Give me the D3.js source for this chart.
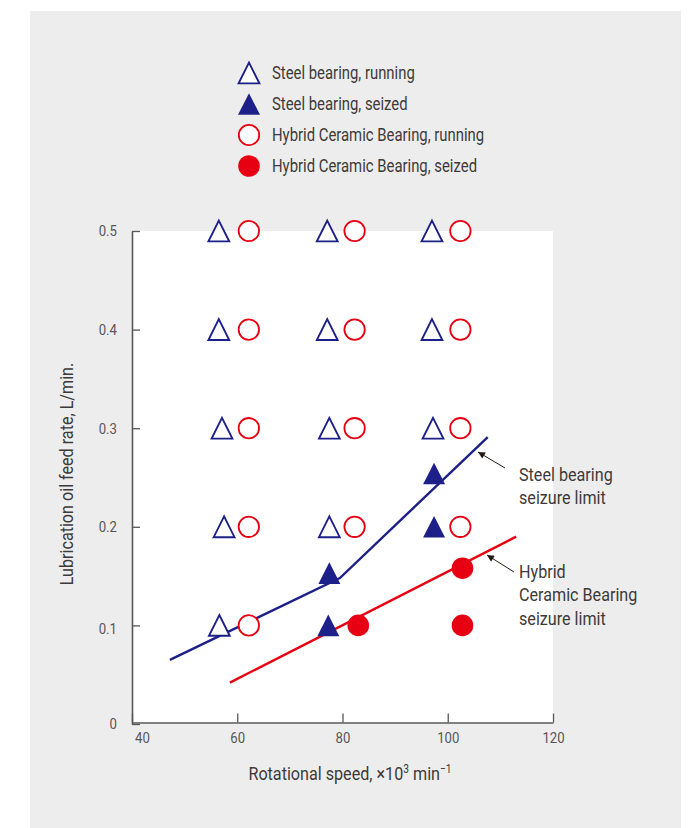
<!DOCTYPE html>
<html lang="en">
<head>
<meta charset="utf-8">
<script src="https://d3js.org/d3.v7.min.js"></script>
<style>
  body { margin: 0; background: #fff; }
  text { font-family: "Liberation Sans Narrow", "Roboto", sans-serif; }
</style>
</head>
<body>
<script>
// data
var steelRunning = [[56.5,0.5],[56.5,0.4],[57.1,0.3],[57.5,0.2],[56.6,0.1],
                    [77.1,0.5],[77.1,0.4],[77.5,0.3],[77.5,0.2],
                    [97,0.5],[97,0.4],[97.2,0.3]];
var steelSeized = [[77.5,0.153],[77.3,0.1],[97.4,0.254],[97.4,0.2]];
var hybridRunning = [[62.2,0.5],[62.2,0.4],[62.2,0.3],[62.2,0.2],[62.2,0.1],
                     [82.3,0.5],[82.3,0.4],[82.3,0.3],[82.3,0.2],
                     [102.4,0.5],[102.4,0.4],[102.4,0.3],[102.4,0.2]];
var hybridSeized = [[83,0.1],[102.8,0.158],[102.8,0.1]];
var steelLimit = [[47.2,0.065],[79.5,0.148],[107.6,0.291]];
var hybridLimit = [[58.6,0.042],[113,0.19]];
var xTicks = [40,60,80,100,120];
var yTicks = [0,0.1,0.2,0.3,0.4,0.5];
var legendLabels = ["Steel bearing, running","Steel bearing, seized",
                    "Hybrid Ceramic Bearing, running","Hybrid Ceramic Bearing, seized"];

var W = 691, H = 828;
var navy = "#1d2088", red = "#e60012", txt = "#3d3a39";
var SQ = 0.85; // horizontal squeeze to mimic the condensed face

var svg = d3.select("body").append("svg")
    .attr("width", W).attr("height", H);

svg.append("rect").attr("x", 30).attr("y", 11)
    .attr("width", 651).attr("height", H - 11).attr("fill", "#ededed");

var x = d3.scaleLinear().domain([40,120]).range([132,553]);
var y = d3.scaleLinear().domain([0,0.5]).range([724,231]);

svg.append("rect").attr("x", x(40)).attr("y", y(0.5))
    .attr("width", x(120) - x(40)).attr("height", y(0) - y(0.5))
    .attr("fill", "#fff");

// condensed text helper
function label(parent, tx, ty, size, anchor, rot) {
  var g = parent.append("g")
    .attr("transform", "translate(" + tx + "," + ty + ")" + (rot ? " rotate(" + rot + ")" : "") + " scale(" + SQ + ",1)");
  return g.append("text").attr("text-anchor", anchor || "start")
    .attr("fill", txt).style("font-size", size + "px");
}

// axes, ticks point inward
var xAxis = svg.append("g").attr("transform", "translate(0,722.5)")
    .call(d3.axisBottom(x).tickValues(xTicks).tickSize(-9).tickPadding(9).tickSizeOuter(0));
var yAxis = svg.append("g").attr("transform", "translate(132,0)")
    .call(d3.axisLeft(y).tickValues(yTicks).tickSize(-8).tickPadding(15).tickSizeOuter(0)
      .tickFormat(function(d){ return d === 0 ? "0" : d3.format(".1f")(d); }));
[xAxis, yAxis].forEach(function(g){
  g.select(".domain").attr("stroke", "#595757").attr("stroke-width", 1.6);
  g.selectAll(".tick line").attr("stroke", "#595757").attr("stroke-width", 1.3);
  g.selectAll(".tick text").attr("fill", "#595757").style("font-size", "15.5px")
    .style("font-family", "'Liberation Sans Narrow', Roboto, sans-serif");
});
// squeeze tick labels about their anchor point
xAxis.selectAll(".tick text")
  .attr("transform", function(d){ return "translate(" + (d === 40 ? 10 : 0) + ",0) scale(" + SQ + ",1)"; });
yAxis.selectAll(".tick text")
  .attr("transform", function(d){ return "translate(-15," + (d === 0.1 ? 3 : 0) + ") scale(" + SQ + ",1)"; })
  .attr("x", 0);

// limit lines
var line = d3.line().x(function(d){ return x(d[0]); }).y(function(d){ return y(d[1]); });
svg.append("path").attr("d", line(steelLimit)).attr("fill", "none")
    .attr("stroke", navy).attr("stroke-width", 2.4);
svg.append("path").attr("d", line(hybridLimit)).attr("fill", "none")
    .attr("stroke", red).attr("stroke-width", 2.4);

function triPath(hw, hh) {
  return "M0," + (-hh) + "L" + hw + "," + hh + "L" + (-hw) + "," + hh + "Z";
}
function drawTri(parent, data, filled) {
  parent.selectAll(null).data(data).enter().append("path")
    .attr("d", filled ? triPath(11, 10.8) : triPath(10.4, 10.4))
    .attr("transform", function(d){ return "translate(" + x(d[0]) + "," + y(d[1]) + ")"; })
    .attr("fill", filled ? navy : "#fff")
    .attr("stroke", navy).attr("stroke-width", filled ? 0 : 1.9)
    .attr("stroke-linejoin", "miter");
}
function drawCirc(parent, data, filled) {
  parent.selectAll(null).data(data).enter().append("circle")
    .attr("cx", function(d){ return x(d[0]); })
    .attr("cy", function(d){ return y(d[1]); })
    .attr("r", filled ? 10.8 : 10.2)
    .attr("fill", filled ? red : "#fff")
    .attr("stroke", red).attr("stroke-width", filled ? 0 : 1.8);
}
drawTri(svg, steelRunning, false);
drawTri(svg, steelSeized, true);
drawCirc(svg, hybridRunning, false);
drawCirc(svg, hybridSeized, true);

// legend
legendLabels.forEach(function(s, i){
  var ly = 73 + i * 31;
  if (i < 2) {
    svg.append("path").attr("d", i === 1 ? triPath(11, 10.8) : triPath(10.4, 10.4))
      .attr("transform", "translate(249," + ly + ")")
      .attr("fill", i === 1 ? navy : "#fff")
      .attr("stroke", navy).attr("stroke-width", i === 1 ? 0 : 1.9);
  } else {
    svg.append("circle").attr("cx", 249).attr("cy", ly)
      .attr("r", i === 3 ? 10.8 : 10.2)
      .attr("fill", i === 3 ? red : "#fff")
      .attr("stroke", red).attr("stroke-width", i === 3 ? 0 : 1.8);
  }
  label(svg, 272, ly + 6, 17.5).text(s);
});

// annotations
svg.append("defs").append("marker").attr("id", "arr")
    .attr("viewBox", "0 0 10 10").attr("refX", 10).attr("refY", 5)
    .attr("markerWidth", 9).attr("markerHeight", 7).attr("orient", "auto")
    .attr("markerUnits", "userSpaceOnUse")
  .append("path").attr("d", "M0,0L10,5L0,10z").attr("fill", "#231815");

function note(x1, y1, x2, y2, tx, ty, lines) {
  svg.append("line").attr("x1", x1).attr("y1", y1).attr("x2", x2).attr("y2", y2)
    .attr("stroke", "#231815").attr("stroke-width", 1).attr("marker-end", "url(#arr)");
  var t = label(svg, tx, ty, 19);
  lines.forEach(function(s, i){
    t.append("tspan").attr("x", 0).attr("dy", i ? 23.5 : 0).text(s);
  });
}
note(505, 468, 478, 452, 519, 481, ["Steel bearing", "seizure limit"]);
note(514, 572, 487, 555, 519, 578, ["Hybrid", "Ceramic Bearing", "seizure limit"]);

// axis titles
label(svg, 350, 780, 19, "middle")
    .html("Rotational speed, \u00d710<tspan dy='-7' font-size='12px'>3</tspan><tspan dy='7'> min</tspan><tspan dy='-7' font-size='12px'>\u22121</tspan>");
label(svg, 73, 474, 19, "middle", -90)
    .text("Lubrication oil feed rate, L/min.");
</script>
</body>
</html>
